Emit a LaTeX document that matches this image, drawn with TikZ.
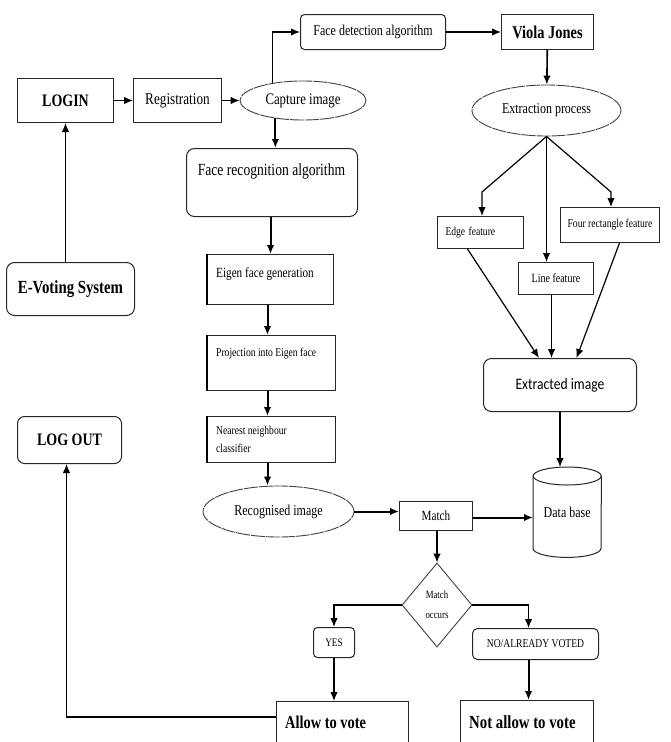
\documentclass[tikz,border=0pt]{standalone}
\usepackage{fontspec}
\setmainfont{Liberation Serif}[FakeStretch=0.8]
\newfontfamily\calib{Carlito}[FakeStretch=0.85]
\usetikzlibrary{shapes.geometric,arrows.meta,calc}
\newcommand\fsz[1]{\fontsize{#1}{#1}\selectfont}
\begin{document}
\begin{tikzpicture}[x=1pt,y=-1pt,
 box/.style={draw=black!85, line width=1pt, inner sep=0pt, anchor=north west},
 rbox/.style={box, rounded corners=6pt},
 ell/.style={ellipse, draw=black!75, line width=0.9pt, dash pattern=on 14pt off 1pt, inner sep=0pt},
 txt/.style={inner sep=0pt},
 arr/.style={-{Latex[length=9pt,width=7.5pt]}, line width=1.2pt},
 tarr/.style={arr, line width=2pt},
]
\useasboundingbox (0,0) rectangle (670,742);

% left column
\node[box, minimum width=96, minimum height=44] (login) at (17,78) {\bfseries\fsz{17.5}LOGIN};
\node[rbox, rounded corners=8pt, minimum width=128, minimum height=53] (evote) at (6,262) {\bfseries\fsz{18.5}E-Voting System};
\node[rbox, rounded corners=7pt, minimum width=104, minimum height=47] (logout) at (17,416) {\bfseries\fsz{17.5}LOG OUT};

% top row
\node[box, minimum width=88, minimum height=44] (reg) at (133,78) {\fsz{16.5}Registration};
\node[ell, minimum width=126, minimum height=39] (cap) at (303,100.5) {\fsz{16}Capture image};
\node[rbox, rounded corners=4pt, minimum width=145, minimum height=35] (fda) at (300,14) {\fsz{15}Face detection algorithm};
\node[box, minimum width=92, minimum height=35] (vj) at (501,14) {\bfseries\fsz{18}Viola Jones};

% right column
\node[ell, minimum width=149, minimum height=51] (ext) at (546.5,110.5) {\fsz{15}Extraction process};
\node[box, minimum height=32, text width=70pt, inner xsep=8pt, align=left] (edge) at (437,216) {\fsz{12}Edge feature};
\node[box, minimum width=99, minimum height=35] (four) at (560,207) {\fsz{12}Four rectangle feature};
\node[box, minimum width=75, minimum height=32] (linef) at (518,262) {\fsz{12.5}Line feature};
\node[rbox, rounded corners=8pt, minimum width=153, minimum height=53] (extr) at (483,358) {\calib\fsz{16}Extracted image};
\node[inner sep=0pt, minimum width=68, minimum height=90, anchor=north west] (db) at (533,467) {\fsz{15}Data base};
\draw[line width=1pt, draw=black!85] ([yshift=-9pt]db.north west) -- ([yshift=9pt]db.south west)
  arc[start angle=180, end angle=360, x radius=34pt, y radius=9pt] -- ([yshift=-9pt]db.north east);
\draw[line width=1pt, draw=black!85] ([yshift=-9pt]db.north) ellipse [x radius=34pt, y radius=9pt];

% middle column
\node[rbox, rounded corners=8pt, minimum width=171, minimum height=68] (facerec) at (186,148) {};
\node[txt, anchor=base] (facerect) at (271.5,175) {\fsz{17}Face recognition algorithm};
\node[box, minimum width=126, minimum height=50] (eig1) at (207,254) {};
\node[txt, anchor=base west] (eig1t) at (216,277) {\fsz{14}Eigen face generation};
\node[box, minimum width=128, minimum height=55] (eig2) at (207,335) {};
\node[txt, anchor=base west] (eig2t) at (216,356) {\fsz{12}Projection into Eigen face};
\node[box, minimum width=128, minimum height=46] (eig3) at (207,416) {};
\node[txt, anchor=north west, align=left, font=\fontsize{12}{18}\selectfont] (eig3t) at (216,426) {Nearest neighbour\\classifier};
\draw[line width=2pt] (eig1.north west) -- (eig1.south west);
\draw[line width=2pt] (eig2.north west) -- (eig2.south west);
\draw[line width=2pt] (eig3.north west) -- (eig3.south west);

\node[ell, minimum width=151, minimum height=51] (recog) at (278.5,511.5) {\fsz{15}Recognised image};
\node[box, minimum width=73, minimum height=29] (match) at (399,501) {\fsz{14}Match};
\node[diamond, draw=black!75, line width=0.9pt, minimum width=70, minimum height=84, inner sep=0pt, align=center, font=\fontsize{11}{20}\selectfont] (dia) at (437,605) {Match\\occurs};
\node[rbox, rounded corners=4pt, minimum width=41, minimum height=30] (yes) at (313,627) {\fsz{11.5}YES};
\node[rbox, rounded corners=5pt, minimum width=126, minimum height=31] (no) at (472,628) {\fsz{12}NO/ALREADY VOTED};
\node[box, minimum width=132, minimum height=70] (allow) at (276,701) {};
\node[txt, anchor=base west] (allowt) at (285,728) {\bfseries\fsz{18}Allow to vote};
\node[box, minimum width=133, minimum height=70] (notallow) at (460,700) {};
\node[txt, anchor=base west] (notallowt) at (469,728) {\bfseries\fsz{18.5}Not allow to vote};

% connectors
\coordinate (b1) at (482,192);
\coordinate (b2) at (611,192);
\draw[arr] (login) -- (reg);
\draw[arr] (reg.east) -- (reg.east -| cap.west);
\draw[arr] (cap.150) |- (fda.west);
\draw[arr] (fda) -- (vj);
\draw[arr, line width=1.6pt] (vj) -- (ext);
\draw[arr] (ext.south) -- (b1) -- (b1 |- edge.north);
\draw[arr] (ext.south) -- (ext.south |- linef.north);
\draw[arr] (ext.south) -- (b2) -- (b2 |- four.north);
\draw[arr] ([xshift=-13pt]edge.south) -- ([xshift=-21pt]extr.north);
\draw[arr] ([xshift=-4.5pt]linef.south) -- ([xshift=-8.5pt]extr.north);
\draw[arr] ([xshift=9.5pt]four.south) -- ([xshift=16.5pt]extr.north);
\draw[arr] (extr.south) -- (extr.south |- db.north);
\draw[arr] (login.south |- evote.north) -- (login.south);
\draw[tarr] (cap.213) -- (cap.213 |- facerec.north);
\draw[tarr] (eig1.north |- facerec.south) -- (eig1.north);
\draw[tarr] ([xshift=-3pt]eig1.south) -- ([xshift=-3pt]eig1.south |- eig2.north);
\draw[tarr] ([xshift=-4pt]eig2.south) -- ([xshift=-4pt]eig2.south |- eig3.north);
\draw[tarr] ([xshift=-4pt]eig3.south) -- ([xshift=-4pt]eig3.south |- recog.north);
\draw[tarr] (recog.east) -- (recog.east -| match.west);
\draw[tarr] ([yshift=-1.5pt]match.east) -- ([yshift=-1.5pt]match.east -| db.west);
\draw[arr] (match.south -| dia.north) -- (dia.north);
\draw[arr] (dia.west) -| (yes.north);
\draw[arr] (dia.east) -| ([xshift=-7pt]no.north);
\draw[arr] (yes.south) -- (yes.south |- allow.north);
\draw[tarr] ([xshift=-7pt]no.south) -- ([xshift=-7pt]no.south |- notallow.north);
\draw[arr] ([yshift=-16pt]allow.north west) -| ([xshift=-3pt]logout.south);
\end{tikzpicture}
\end{document}
